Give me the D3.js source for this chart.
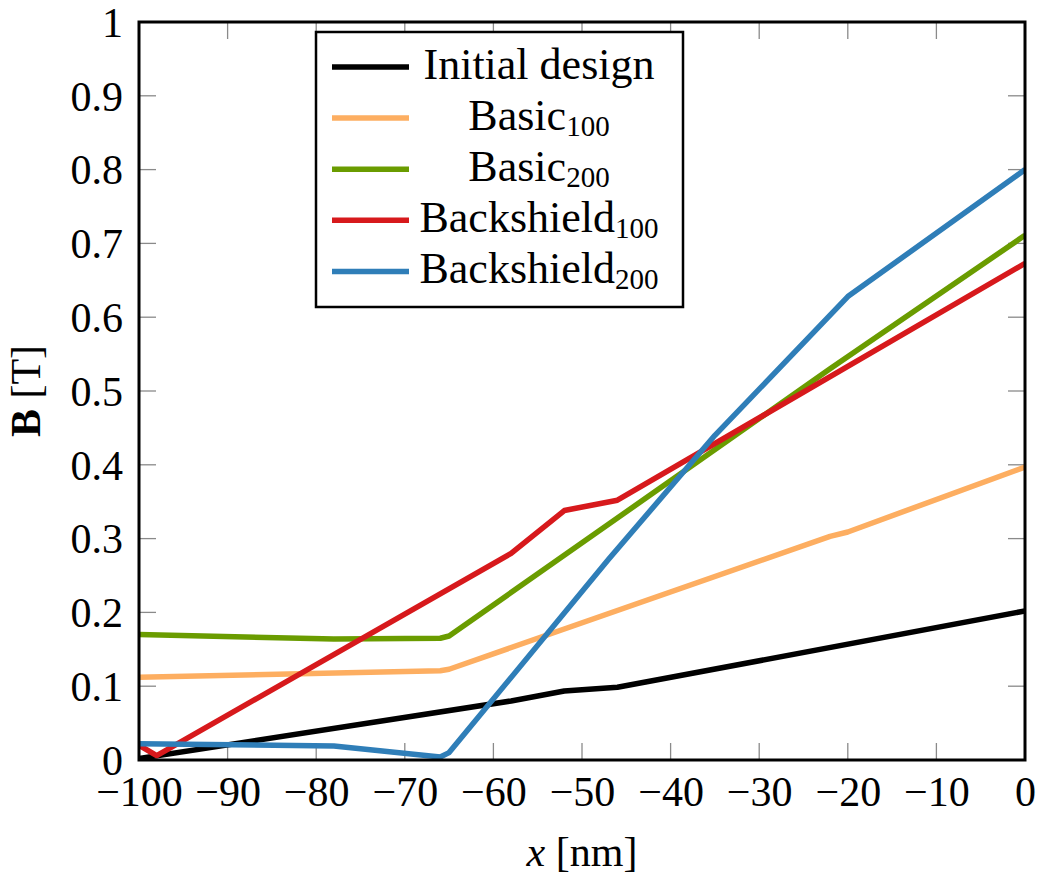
<!DOCTYPE html>
<html>
<head>
<meta charset="utf-8">
<script src="https://cdn.jsdelivr.net/npm/d3@7"></script>
<style>
  body { margin: 0; background: #fff; }
  svg { display: block; }
</style>
</head>
<body>
<svg id="chart" width="1055" height="883"></svg>
<script>
// ---- data ----
const seriesNames = ["Initial design", "Basic", "Basic", "Backshield", "Backshield"];
const seriesSubs = ["", "100", "200", "100", "200"];
const seriesColors = ["#000000", "#fdae61", "#6a9c00", "#d7191c", "#2f7eb8"];

const initialX = [-100, -58, -52, -46, 0];
const initialY = [0.002, 0.080, 0.0935, 0.0985, 0.202];

const basic100X = [-100, -66, -65, -22, -20, 0];
const basic100Y = [0.112, 0.121, 0.123, 0.303, 0.309, 0.397];

const basic200X = [-100, -78, -66, -65, -22, 0];
const basic200Y = [0.170, 0.164, 0.165, 0.168, 0.530, 0.711];

const back100X = [-100, -98, -58, -52, -46, 0];
const back100Y = [0.020, 0.006, 0.280, 0.338, 0.352, 0.673];

const back200X = [-100, -78, -66, -65, -47, -35, -31, -20, 0];
const back200Y = [0.022, 0.019, 0.004, 0.010, 0.272, 0.440, 0.490, 0.628, 0.800];

const xTicks = [-100, -90, -80, -70, -60, -50, -40, -30, -20, -10, 0];
const yTicks = [0, 0.1, 0.2, 0.3, 0.4, 0.5, 0.6, 0.7, 0.8, 0.9, 1];

const allX = [initialX, basic100X, basic200X, back100X, back200X];
const allY = [initialY, basic100Y, basic200Y, back100Y, back200Y];

// ---- layout ----
const FONT = "'Liberation Serif', 'Times New Roman', serif";
const L = 139, R = 1025, T = 22, B = 760;
const svg = d3.select("#chart").style("font-family", FONT);
const x = d3.scaleLinear().domain([-100, 0]).range([L, R]);
const y = d3.scaleLinear().domain([0, 1]).range([B, T]);

const fs = 42;
const tickLen = 17;
const tickColor = "#8a8a8a";

// ticks (inside, on all four sides)
const gTicks = svg.append("g").attr("stroke", tickColor).attr("stroke-width", 1.3);
xTicks.forEach(v => {
  gTicks.append("line").attr("x1", x(v)).attr("x2", x(v)).attr("y1", B).attr("y2", B - tickLen);
  gTicks.append("line").attr("x1", x(v)).attr("x2", x(v)).attr("y1", T).attr("y2", T + tickLen);
});
yTicks.forEach(v => {
  gTicks.append("line").attr("x1", L).attr("x2", L + tickLen).attr("y1", y(v)).attr("y2", y(v));
  gTicks.append("line").attr("x1", R).attr("x2", R - tickLen).attr("y1", y(v)).attr("y2", y(v));
});

// series lines
svg.append("clipPath").attr("id", "clip").append("rect")
  .attr("x", L).attr("y", T).attr("width", R - L).attr("height", B - T);
const line = d3.line().x(d => x(d[0])).y(d => y(d[1]));
const gLines = svg.append("g").attr("clip-path", "url(#clip)");
allX.forEach((xs, i) => {
  const pts = xs.map((v, j) => [v, allY[i][j]]);
  gLines.append("path").datum(pts)
    .attr("d", line)
    .attr("fill", "none")
    .attr("stroke", seriesColors[i])
    .attr("stroke-width", 5.5)
    .attr("stroke-linejoin", "round")
    .attr("stroke-linecap", "butt");
});

// frame
svg.append("rect").attr("x", L).attr("y", T).attr("width", R - L).attr("height", B - T)
  .attr("fill", "none").attr("stroke", "#000").attr("stroke-width", 3);

// axis labels via d3 axes (no domain/ticks, just text)
const xAxis = d3.axisBottom(x).tickValues(xTicks).tickSize(0).tickPadding(0)
  .tickFormat(d => d3.format("d")(d));
const gx = svg.append("g").attr("transform", `translate(0,${B})`).call(xAxis)
  .attr("font-family", null).attr("font-size", null);
gx.select(".domain").remove();
gx.selectAll("text").attr("dy", null).attr("y", 46)
  .style("font-family", FONT).style("font-size", fs + "px").attr("fill", "#000");

const yAxis = d3.axisLeft(y).tickValues(yTicks).tickSize(0).tickPadding(0)
  .tickFormat(d => (d === 0 ? "0" : d === 1 ? "1" : d3.format(".1f")(d)));
const gy = svg.append("g").attr("transform", `translate(${L},0)`).call(yAxis)
  .attr("font-family", null).attr("font-size", null);
gy.select(".domain").remove();
gy.selectAll("text").attr("x", -16).attr("dy", "0.34em")
  .style("font-family", FONT).style("font-size", fs + "px").attr("fill", "#000");

// x axis title
const xt = svg.append("text").attr("x", (L + R) / 2).attr("y", 866)
  .attr("text-anchor", "middle").style("font-family", FONT).style("font-size", fs + "px");
xt.append("tspan").attr("font-style", "italic").text("x");
xt.append("tspan").text(" [nm]");

// y axis title
const yt = svg.append("text")
  .attr("transform", `translate(40,${(T + B) / 2}) rotate(-90)`)
  .attr("text-anchor", "middle").style("font-family", FONT).style("font-size", fs + "px");
yt.append("tspan").attr("font-weight", "bold").text("B");
yt.append("tspan").text(" [T]");

// legend
const lg = svg.append("g");
lg.append("rect").attr("x", 316).attr("y", 32).attr("width", 367).attr("height", 275)
  .attr("fill", "#fff").attr("stroke", "#000").attr("stroke-width", 2.5);
seriesNames.forEach((name, i) => {
  const ly = 67 + i * 51.1;
  lg.append("line").attr("x1", 332).attr("x2", 409).attr("y1", ly).attr("y2", ly)
    .attr("stroke", seriesColors[i]).attr("stroke-width", 5.5);
  const t = lg.append("text").attr("x", 539).attr("y", ly + 12)
    .attr("text-anchor", "middle").style("font-family", FONT).style("font-size", (fs + 2) + "px");
  t.append("tspan").text(name);
  if (seriesSubs[i]) {
    t.append("tspan").style("font-size", "29px").attr("dy", 6).text(seriesSubs[i]);
  }
});
</script>
</body>
</html>
